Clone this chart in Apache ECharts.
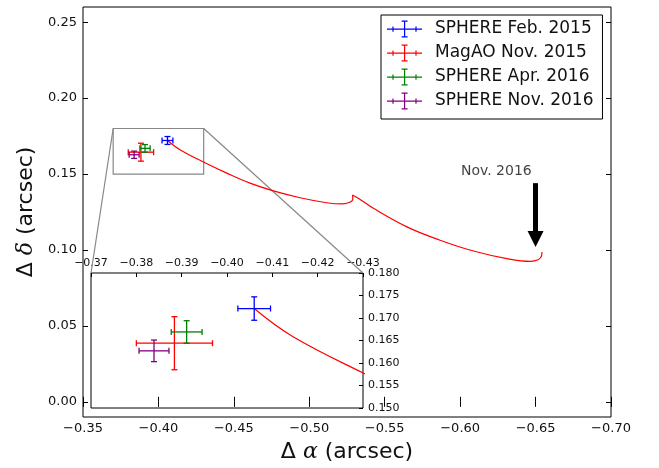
<!DOCTYPE html>
<html>
<head>
<meta charset="utf-8">
<script src="https://cdn.jsdelivr.net/npm/echarts@6/dist/echarts.min.js"></script>
<style>
  html, body { margin: 0; padding: 0; background: #fff; }
  #chart { width: 659px; height: 468px; }
</style>
</head>
<body>
<div id="chart"></div>
<script>
const FONT = 'DejaVu Sans';

const epochNames = ['SPHERE Feb. 2015', 'MagAO Nov. 2015', 'SPHERE Apr. 2016', 'SPHERE Nov. 2016'];
const epochColors = ['#0000ff', '#ff0000', '#008000', '#800080'];
// [d alpha, d delta, err alpha, err delta]
const epochPoints = [
  [-0.4060, 0.1721, 0.0036, 0.0026],
  [-0.3884, 0.1644, 0.0084, 0.0059],
  [-0.3911, 0.1669, 0.0034, 0.0025],
  [-0.3839, 0.1627, 0.0033, 0.0024]
];

// predicted orbit track, first branch up to the cusp
const orbitTrackA = [
  [-0.4060, 0.1721], [-0.4143, 0.1660], [-0.4298, 0.1579], [-0.4453, 0.1506],
  [-0.4607, 0.1440], [-0.4762, 0.1389], [-0.4939, 0.1344], [-0.5116, 0.1311],
  [-0.5217, 0.1303], [-0.5268, 0.1314], [-0.5289, 0.1336], [-0.5286, 0.1362]
];
// second branch from the cusp
const orbitTrackB = [
  [-0.5286, 0.1362], [-0.5330, 0.1338], [-0.5425, 0.1274], [-0.5647, 0.1152],
  [-0.5867, 0.1064], [-0.6088, 0.0993], [-0.6310, 0.0943], [-0.6464, 0.0925],
  [-0.6517, 0.0935], [-0.6540, 0.0962], [-0.6542, 0.0987]
];

const arrowFrom = [-0.65, 0.144];
const arrowTo = [-0.65, 0.1073];
const noteText = 'Nov. 2016';
const notePos = [-0.624, 0.1515];

const mainXTicks = [-0.35, -0.40, -0.45, -0.50, -0.55, -0.60, -0.65, -0.70];
const mainYTicks = [0.00, 0.05, 0.10, 0.15, 0.20, 0.25];
const insetXTicks = [-0.37, -0.38, -0.39, -0.40, -0.41, -0.42, -0.43];
const insetYTicks = [0.150, 0.155, 0.160, 0.165, 0.170, 0.175, 0.180];
const insetX = [-0.43, -0.37];
const insetY = [0.15, 0.18];

const fmt = d => v => (v < -1e-9 ? '\u2212' : '') + Math.abs(v).toFixed(d);

const errIcon = 'path://M0,8H35V9.2H0Z M17,0H18.2V17H17Z M14.6,0H20.6V1.2H14.6Z M14.6,15.8H20.6V17H14.6Z M5.4,6H6.6V11.2H5.4Z M28.4,6H29.6V11.2H28.4Z';

function renderErrorBars(params, api) {
  const x = api.value(0), y = api.value(1), ex = api.value(2), ey = api.value(3);
  const l = api.coord([x - ex, y]), r = api.coord([x + ex, y]);
  const t = api.coord([x, y + ey]), b = api.coord([x, y - ey]);
  const cap = 3;
  const color = api.visual('color');
  const seg = (x1, y1, x2, y2) => ({
    type: 'line',
    shape: {x1, y1, x2, y2},
    style: {stroke: color, lineWidth: 1.3, fill: null}
  });
  return {
    type: 'group',
    children: [
      seg(l[0], l[1], r[0], r[1]),
      seg(t[0], t[1], b[0], b[1]),
      seg(l[0], l[1] - cap, l[0], l[1] + cap),
      seg(r[0], r[1] - cap, r[0], r[1] + cap),
      seg(t[0] - cap, t[1], t[0] + cap, t[1]),
      seg(b[0] - cap, b[1], b[0] + cap, b[1])
    ]
  };
}

const tickLabel = {fontSize: 13, fontFamily: FONT, color: '#111'};
const smallLabel = {fontSize: 11, fontFamily: FONT, color: '#111'};
const nameRich = {
  g: {fontSize: 22, fontFamily: FONT, color: '#111'},
  m: {fontSize: 22, fontFamily: 'DejaVu Serif', fontStyle: 'italic', color: '#111'}
};

const chart = echarts.init(document.getElementById('chart'));

const orbitLine = (data, xi, yi) => ({
  type: 'line',
  xAxisIndex: xi, yAxisIndex: yi,
  data,
  smooth: 0.4,
  showSymbol: false,
  silent: true,
  clip: true,
  lineStyle: {color: '#ff0000', width: 1.2},
  z: 3
});

const series = [];
series.push(Object.assign(orbitLine(orbitTrackA, 0, 0), {
  markArea: {
    silent: true,
    itemStyle: {color: 'rgba(0,0,0,0)', borderColor: '#888', borderWidth: 1.2},
    data: [[{coord: [insetX[1], insetY[1]]}, {coord: [insetX[0], insetY[0]]}]]
  },
  markLine: {
    silent: true,
    symbol: ['none', 'triangle'],
    symbolSize: 16,
    label: {show: false},
    lineStyle: {color: '#000', width: 5, type: 'solid'},
    data: [[{coord: arrowFrom}, {coord: arrowTo}]]
  }
}));
series.push(orbitLine(orbitTrackA, 2, 2));
series.push(orbitLine(orbitTrackB, 0, 0));
series.push({
  type: 'scatter',
  xAxisIndex: 0, yAxisIndex: 0,
  data: [notePos],
  symbolSize: 0,
  silent: true,
  label: {show: true, position: 'inside', formatter: noteText, fontSize: 14, fontFamily: FONT, color: '#111'}
});
epochNames.forEach((name, i) => {
  [[0, 0], [2, 2]].forEach(([xi, yi]) => {
    series.push({
      type: 'custom',
      name,
      xAxisIndex: xi, yAxisIndex: yi,
      data: [epochPoints[i]],
      encode: {x: 0, y: 1},
      renderItem: renderErrorBars,
      itemStyle: {color: epochColors[i]},
      silent: true,
      z: 4
    });
  });
});

const mainX = {
  type: 'value', gridIndex: 0, min: -0.70, max: -0.35, inverse: true,
  axisLine: {show: false}, splitLine: {show: false}
};
const mainY = {
  type: 'value', gridIndex: 0, min: -0.01, max: 0.26,
  axisLine: {show: false}, splitLine: {show: false}
};

chart.setOption({
  animation: false,
  backgroundColor: '#fff',
  grid: [
    {left: 83, top: 7, right: 48, bottom: 51, show: true, borderColor: '#000', borderWidth: 1,
     backgroundColor: '#fff', outerBoundsMode: 'none'},
    {left: 91, top: 273, width: 272, height: 135, show: true, borderColor: '#000', borderWidth: 1,
     backgroundColor: '#fff', outerBoundsMode: 'none'}
  ],
  xAxis: [
    Object.assign({}, mainX, {
      position: 'bottom',
      axisTick: {inside: true, length: 5, customValues: mainXTicks, lineStyle: {color: '#000'}},
      axisLabel: Object.assign({customValues: mainXTicks, formatter: fmt(2), margin: 5}, tickLabel),
      name: '{g|\u0394 }{m|\u03b1}{g| (arcsec)}',
      nameLocation: 'middle', nameGap: 24,
      nameTextStyle: {rich: nameRich}
    }),
    Object.assign({}, mainX, {
      position: 'top',
      axisTick: {inside: true, length: 5, customValues: mainXTicks, lineStyle: {color: '#000'}},
      axisLabel: {show: false}
    }),
    {
      type: 'value', gridIndex: 1, min: insetX[0], max: insetX[1], inverse: true, position: 'top',
      axisLine: {show: false}, splitLine: {show: false},
      axisTick: {inside: true, length: 4, customValues: insetXTicks, lineStyle: {color: '#000'}},
      axisLabel: Object.assign({customValues: insetXTicks, formatter: fmt(2), margin: 4}, smallLabel)
    }
  ],
  yAxis: [
    Object.assign({}, mainY, {
      position: 'left',
      axisTick: {inside: true, length: 5, customValues: mainYTicks, lineStyle: {color: '#000'}},
      axisLabel: Object.assign({customValues: mainYTicks, formatter: fmt(2), margin: 6}, tickLabel),
      name: '{g|\u0394 }{m|\u03b4}{g| (arcsec)}',
      nameLocation: 'middle', nameGap: 43, nameRotate: 90,
      nameTextStyle: {rich: nameRich}
    }),
    Object.assign({}, mainY, {
      position: 'right',
      axisTick: {inside: true, length: 5, customValues: mainYTicks, lineStyle: {color: '#000'}},
      axisLabel: {show: false}
    }),
    {
      type: 'value', gridIndex: 1, min: insetY[0], max: insetY[1], position: 'right',
      axisLine: {show: false}, splitLine: {show: false},
      axisTick: {inside: true, length: 4, customValues: insetYTicks, lineStyle: {color: '#000'}},
      axisLabel: Object.assign({customValues: insetYTicks, formatter: fmt(3), margin: 5}, smallLabel)
    }
  ],
  legend: {
    orient: 'vertical',
    left: 381, top: 15,
    padding: [5, 9, 9, 6],
    itemGap: 6,
    itemWidth: 35, itemHeight: 17,
    borderColor: '#000', borderWidth: 1, borderRadius: 0,
    backgroundColor: '#fff',
    selectedMode: false,
    itemStyle: {borderWidth: 0},
    textStyle: {fontSize: 17, fontFamily: FONT, color: '#111', padding: [0, 0, 0, 8], lineHeight: 18},
    data: epochNames.map((n, i) => ({name: n, icon: errIcon, itemStyle: {color: epochColors[i]}}))
  },
  series
});

// zoom connectors: same data corners in main plot and inset
const cornerL = [insetX[1], insetY[1]];
const cornerR = [insetX[0], insetY[1]];
const links = [cornerL, cornerR].map(c => {
  const a = chart.convertToPixel({seriesIndex: 0}, c);
  const b = chart.convertToPixel({seriesIndex: 1}, c);
  return {
    type: 'line',
    silent: true,
    z: 1,
    shape: {x1: a[0], y1: a[1], x2: b[0], y2: b[1]},
    style: {stroke: '#888', lineWidth: 1.2}
  };
});
chart.setOption({graphic: links});
</script>
</body>
</html>
